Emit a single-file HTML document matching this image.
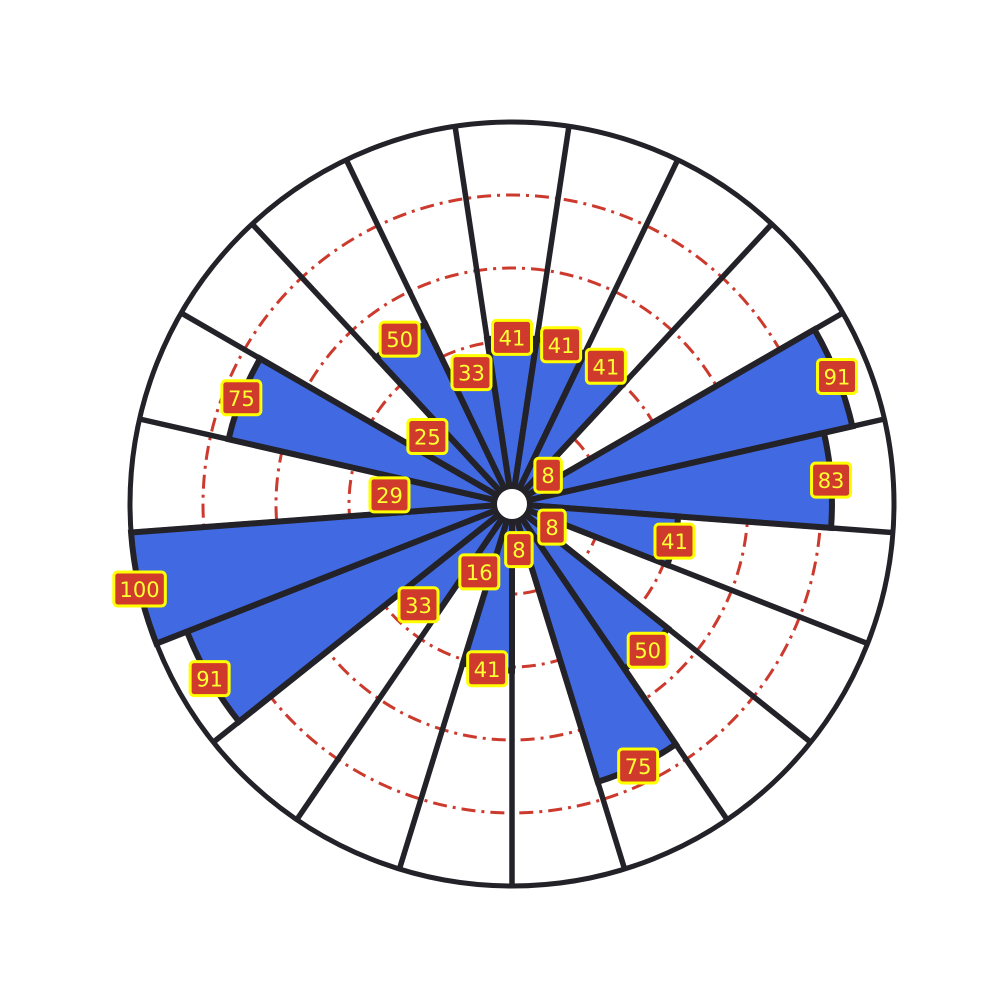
<!DOCTYPE html>
<html><head><meta charset="utf-8"><style>
html,body{margin:0;padding:0;background:#fff;}
svg{display:block;}
.lbl{font-family:"DejaVu Sans","Liberation Sans",sans-serif;font-size:21px;fill:#ffff33;}
</style></head><body>
<svg id="chart" width="1000" height="1000" viewBox="0 0 1000 1000"></svg>
<script>
const categories = ["c0","c1","c2","c3","c4","c5","c6","c7","c8","c9","c10","c11","c12","c13","c14","c15","c16","c17","c18","c19","c20"];
const values = [41,41,41,8,91,83,41,8,50,75,8,41,16,33,91,100,29,75,25,50,33];
const ringTicks = [20,40,60,80];
const maxValue = 100;

const NS = "http://www.w3.org/2000/svg";
const svg = document.getElementById("chart");
const cx = 512, cy = 504, r0 = 17, R = 382;
const n = categories.length;
const step = 360 / n;
function rScale(v){ return r0 + (R - r0) * v / maxValue; }
function pt(r, deg){ const a = deg * Math.PI / 180; return [cx + r * Math.sin(a), cy - r * Math.cos(a)]; }
function mk(tag, attrs){ const e = document.createElementNS(NS, tag); for (const k in attrs) e.setAttribute(k, attrs[k]); svg.appendChild(e); return e; }

ringTicks.forEach(t => {
  const c = mk("circle", {cx: cx, cy: cy, r: rScale(t), fill: "none", stroke: "#cc3a2e", "stroke-width": 3, "stroke-dasharray": "14 6 3 6"});
  
  
});

values.forEach((v, i) => {
  const a0 = i * step - step / 2, a1 = i * step + step / 2;
  const r = rScale(v);
  const p0 = pt(r, a0), p1 = pt(r, a1);
  const d = `M${cx},${cy} L${p0[0]},${p0[1]} A${r},${r} 0 0 1 ${p1[0]},${p1[1]} Z`;
  const b = mk("path", {d: d, fill: "#4169e1", stroke: "#222228", "stroke-width": 6, "stroke-linejoin": "miter"});
  
  
});

for (let i = 0; i < n; i++) {
  const a = i * step + step / 2;
  const p = pt(R, a);
  const l = mk("line", {x1: cx, y1: cy, x2: p[0], y2: p[1], stroke: "#222228", "stroke-width": 5.5});
  
  
}
const outer = mk("circle", {cx: cx, cy: cy, r: R, fill: "none", stroke: "#222228", "stroke-width": 5});


const hole = mk("circle", {cx: cx, cy: cy, r: r0, fill: "#fff", stroke: "#222228", "stroke-width": 4});



values.forEach((v, i) => {
  const p = pt(rScale(v), i * step);
  const txt = String(v);
  const w = 14 + 12.5 * txt.length, h = 34;
  const g = document.createElementNS(NS, "g");
  
  
  svg.appendChild(g);
  const rect = document.createElementNS(NS, "rect");
  rect.setAttribute("x", p[0] - w / 2); rect.setAttribute("y", p[1] - h / 2);
  rect.setAttribute("width", w); rect.setAttribute("height", h);
  rect.setAttribute("rx", 4); rect.setAttribute("fill", "#cf3a2c");
  rect.setAttribute("stroke", "#ffff00"); rect.setAttribute("stroke-width", 3);
  g.appendChild(rect);
  const t = document.createElementNS(NS, "text");
  t.setAttribute("x", p[0]); t.setAttribute("y", p[1] + 8);
  t.setAttribute("text-anchor", "middle"); t.setAttribute("class", "lbl");
  t.textContent = txt;
  g.appendChild(t);
});
</script>
</body></html>
